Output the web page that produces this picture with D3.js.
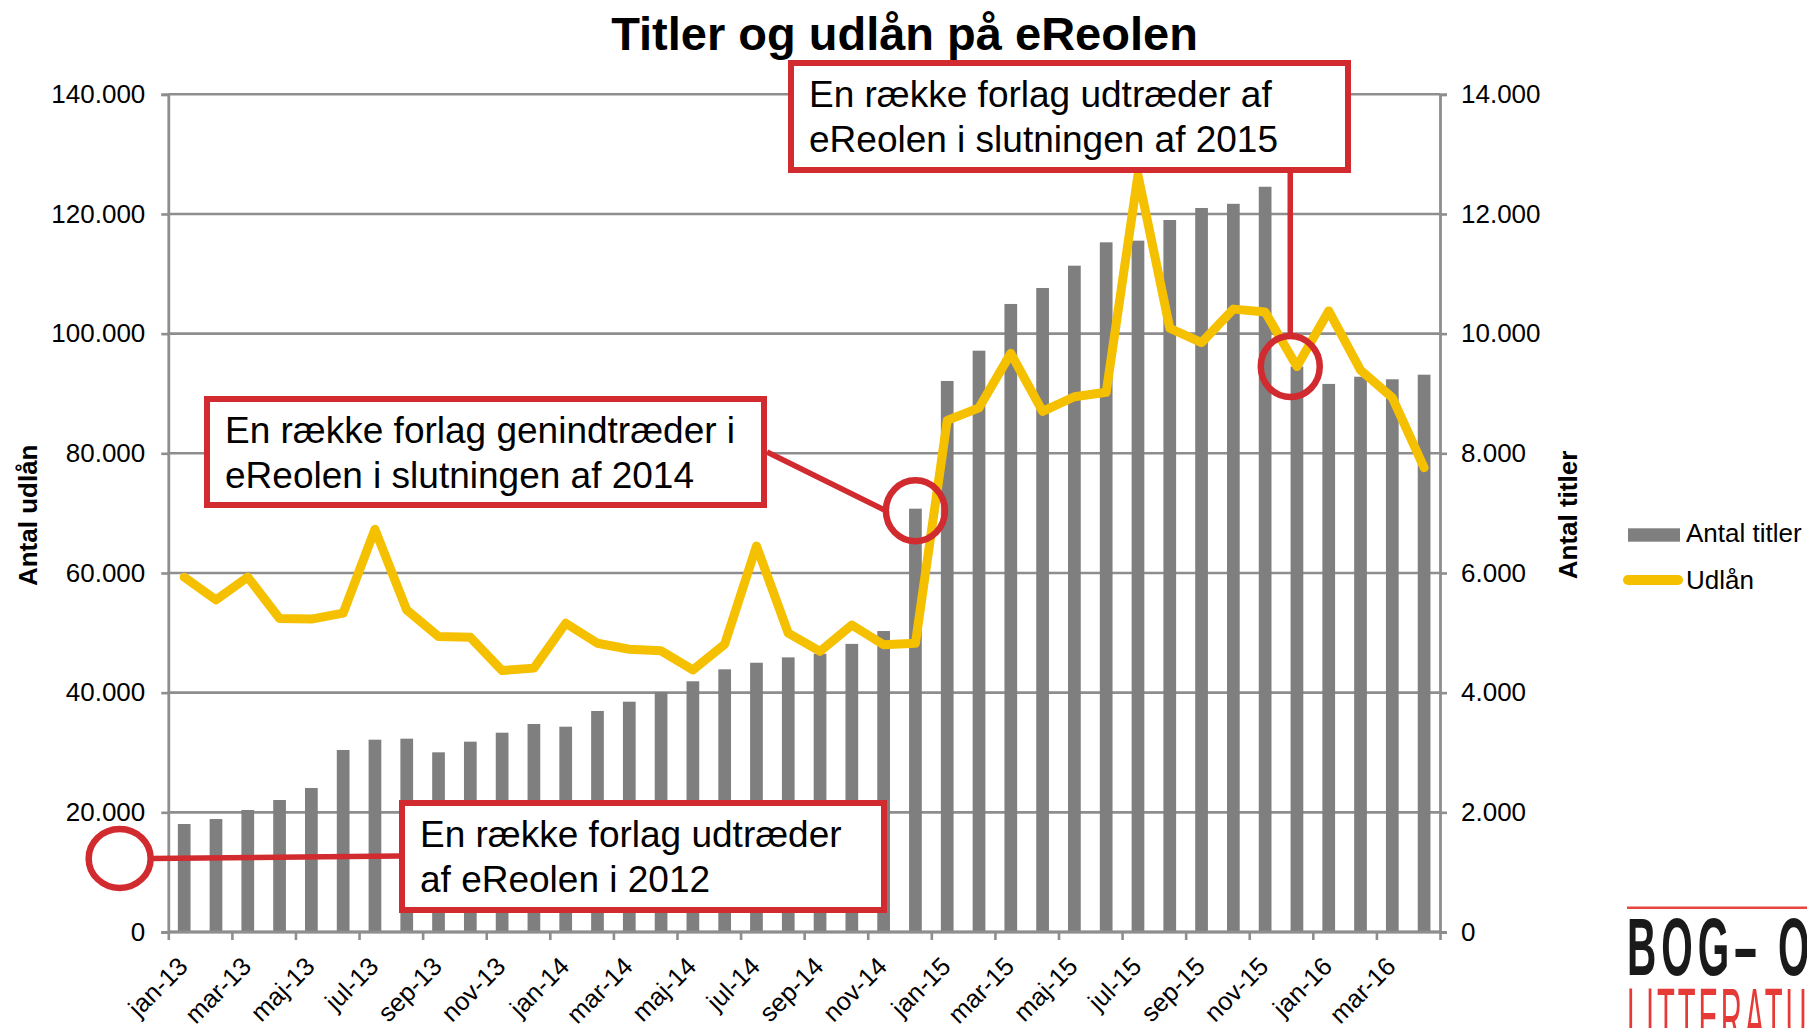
<!DOCTYPE html>
<html><head><meta charset="utf-8">
<script src="https://cdn.jsdelivr.net/npm/d3@7"></script>
<style>
html,body{margin:0;padding:0;background:#fff;overflow:hidden;}
svg{display:block;font-family:"Liberation Sans",Arial,sans-serif;}
</style></head><body>
<svg id="chart" width="1807" height="1028"></svg>
<script>
// ---------- data ----------
const months = ["jan-13","feb-13","mar-13","apr-13","maj-13","jun-13","jul-13","aug-13","sep-13","okt-13","nov-13","dec-13",
  "jan-14","feb-14","mar-14","apr-14","maj-14","jun-14","jul-14","aug-14","sep-14","okt-14","nov-14","dec-14",
  "jan-15","feb-15","mar-15","apr-15","maj-15","jun-15","jul-15","aug-15","sep-15","okt-15","nov-15","dec-15",
  "jan-16","feb-16","mar-16","apr-16"];
const tickLabels = ["jan-13","mar-13","maj-13","jul-13","sep-13","nov-13","jan-14","mar-14","maj-14","jul-14","sep-14","nov-14",
  "jan-15","mar-15","maj-15","jul-15","sep-15","nov-15","jan-16","mar-16"];
// Antal titler (right axis, bars)
const titles = [1805,1888,2039,2206,2407,3042,3214,3231,3003,3181,3331,3476,
  3431,3694,3849,4011,4190,4390,4500,4590,4650,4815,5030,7075,
  9209,9715,10496,10763,11136,11526,11554,11899,12100,12170,12455,9450,
  9160,9280,9237,9314];
// Udlån (left axis, line)
const loans = [59300,55500,59300,52400,52300,53300,67300,53800,49400,49250,43700,44100,
  51600,48250,47250,47000,43800,48100,64500,49950,46900,51300,48000,48250,
  85500,87600,96700,87000,89450,90200,126500,100900,98500,104100,103600,94500,
  103800,93900,89300,77600];
const leftTicks = [0,20000,40000,60000,80000,100000,120000,140000];
const rightTicks = [0,2000,4000,6000,8000,10000,12000,14000];
const seriesNames = ["Antal titler","Udlån"];
const chartTitle = "Titler og udlån på eReolen";
const leftTitle = "Antal udlån";
const rightTitle = "Antal titler";
const noteTexts = [
  ["En række forlag udtræder af","eReolen i slutningen af 2015"],
  ["En række forlag genindtræder i","eReolen i slutningen af 2014"],
  ["En række forlag udtræder","af eReolen i 2012"]
];
// circled points: month, shift in category steps, loan value
const noteTargets = [
  {month:"dec-15", shift:-0.21, value:94500},
  {month:"dec-14", shift:0, value:70400},
  {month:"jan-13", shift:-2.03, value:12300}
];
const logoTexts = ["BOG– OG","LITTERATUR"];

// ---------- layout ----------
const W = 1807, H = 1028;
const L = 168.3, R = 1440, T = 94.3, B = 932;
const C = {bar:"#7f7f7f", line:"#f5c000", grid:"#8e8e8e", red:"#d12a2f"};
const svg = d3.select("#chart");
const fmt = d3.formatLocale({decimal:",",thousands:".",grouping:[3],currency:["","kr"]}).format(",d");

const x = d3.scaleBand().domain(months).range([L,R]).paddingInner(0.6).paddingOuter(0.3);
const step = x.step();
const xc = m => x(m) + x.bandwidth()/2;
const xb = d3.scaleLinear().domain([0, months.length]).range([L,R]);
const yL = d3.scaleLinear().domain([0,140000]).range([B,T]);
const yR = d3.scaleLinear().domain([0,14000]).range([B,T]);

// gridlines
svg.append("g").selectAll("line").data(leftTicks).join("line")
  .attr("x1",L).attr("x2",R).attr("y1",d=>yL(d)).attr("y2",d=>yL(d))
  .attr("stroke",C.grid).attr("stroke-width",2.6);

// bars
svg.append("g").selectAll("rect").data(months).join("rect")
  .attr("x",d=>x(d)).attr("width",x.bandwidth())
  .attr("y",(d,i)=>yR(titles[i])).attr("height",(d,i)=>B-yR(titles[i]))
  .attr("fill",C.bar);

// left axis
const gL = svg.append("g").attr("transform",`translate(${L},0)`)
  .call(d3.axisLeft(yL).tickValues(leftTicks).tickFormat(fmt).tickSize(7).tickPadding(16));
// right axis
const gR = svg.append("g").attr("transform",`translate(${R},0)`)
  .call(d3.axisRight(yR).tickValues(rightTicks).tickFormat(fmt).tickSize(7).tickPadding(14));
// bottom axis (ticks at every second category boundary)
const gB = svg.append("g").attr("transform",`translate(0,${B})`)
  .call(d3.axisBottom(xb).tickValues(d3.range(0, months.length+1, 2)).tickFormat("").tickSize(8));
[gL,gR,gB].forEach(g=>{
  g.selectAll(".domain").attr("stroke",C.grid).attr("stroke-width",2.8);
  g.selectAll(".tick line").attr("stroke",C.grid).attr("stroke-width",2.6);
  g.selectAll(".tick text").attr("font-size",26).attr("fill","#000").attr("font-family","Liberation Sans, Arial, sans-serif");
});
gB.select(".domain").attr("d",`M${L},0H${R}`);

// x labels
svg.append("g").selectAll("text").data(tickLabels).join("text")
  .attr("transform",d=>`translate(${xc(d)+5},${B+36}) rotate(-45)`)
  .attr("text-anchor","end").attr("font-size",25.5).attr("fill","#000")
  .text(d=>d);

// line
const line = d3.line().x((d,i)=>xc(months[i])).y(d=>yL(d));
svg.append("path").datum(loans).attr("d",line)
  .attr("fill","none").attr("stroke",C.line).attr("stroke-width",9)
  .attr("stroke-linejoin","round").attr("stroke-linecap","round");

// title and axis titles
svg.append("text").attr("x",904.5).attr("y",50).attr("text-anchor","middle")
  .attr("font-size",47).attr("font-weight","bold").text(chartTitle);
svg.append("text").attr("transform","translate(36.5,515.3) rotate(-90)").attr("text-anchor","middle")
  .attr("font-size",26).attr("font-weight","bold").text(leftTitle);
svg.append("text").attr("transform","translate(1576.5,515) rotate(-90)").attr("text-anchor","middle")
  .attr("font-size",26).attr("font-weight","bold").text(rightTitle);

// annotations
const boxes = [
  {x:788, y:60, w:563, h:113},
  {x:204, y:396, w:563, h:112},
  {x:399, y:800, w:488, h:113}
];
const rings = [{rx:29.5, ry:30.5},{rx:29.5, ry:30.5},{rx:31, ry:29.5}];
const gA = svg.append("g");
const centers = noteTargets.map(t=>({cx:xc(t.month)+t.shift*step, cy:yL(t.value)}));
const c0 = centers[0], c1 = centers[1], c2 = centers[2];
const conns = [
  [[c0.cx, boxes[0].y+boxes[0].h], [c0.cx, c0.cy-rings[0].ry]],
  [[boxes[1].x+boxes[1].w, 452], [c1.cx-rings[1].rx, c1.cy]],
  [[c2.cx+rings[2].rx, c2.cy], [boxes[2].x, 856]]
];
gA.selectAll("line.conn").data(conns).join("line").attr("class","conn")
  .attr("x1",d=>d[0][0]).attr("y1",d=>d[0][1]).attr("x2",d=>d[1][0]).attr("y2",d=>d[1][1])
  .attr("stroke",C.red).attr("stroke-width",5.5);
gA.selectAll("ellipse").data(centers).join("ellipse")
  .attr("cx",d=>d.cx).attr("cy",d=>d.cy).attr("rx",(d,i)=>rings[i].rx).attr("ry",(d,i)=>rings[i].ry)
  .attr("fill","none").attr("stroke",C.red).attr("stroke-width",6.5);
boxes.forEach((b,i)=>{
  gA.append("rect").attr("x",b.x+3).attr("y",b.y+3).attr("width",b.w-6).attr("height",b.h-6)
    .attr("fill","#fff").attr("stroke",C.red).attr("stroke-width",6);
  noteTexts[i].forEach((t,j)=>{
    gA.append("text").attr("x",b.x+21).attr("y",b.y+46.7+j*44.8)
      .attr("font-size",37).attr("fill","#000").text(t);
  });
});

// legend
const lg = svg.append("g");
lg.append("rect").attr("x",1628).attr("y",528.3).attr("width",52).attr("height",13.4).attr("fill",C.bar);
lg.append("text").attr("x",1686).attr("y",541.7).attr("font-size",26).text(seriesNames[0]);
lg.append("line").attr("x1",1628).attr("x2",1678).attr("y1",580).attr("y2",580)
  .attr("stroke",C.line).attr("stroke-width",10).attr("stroke-linecap","round");
lg.append("text").attr("x",1686).attr("y",589).attr("font-size",26).text(seriesNames[1]);

// logo
const lo = svg.append("g");
lo.append("line").attr("x1",1627).attr("x2",W).attr("y1",907.7).attr("y2",907.7)
  .attr("stroke","#e8463f").attr("stroke-width",2.5);
lo.append("text").attr("transform","translate(1627,975) scale(0.5,1)")
  .attr("font-size",81).attr("font-weight","bold").attr("fill","#1a1a1a").attr("letter-spacing",10)
  .text(logoTexts[0]);
lo.append("text").attr("transform","translate(1627,1045) scale(0.36,1)")
  .attr("font-size",81).attr("fill","#e53a35").attr("letter-spacing",8)
  .text(logoTexts[1]);
</script>
</body></html>
